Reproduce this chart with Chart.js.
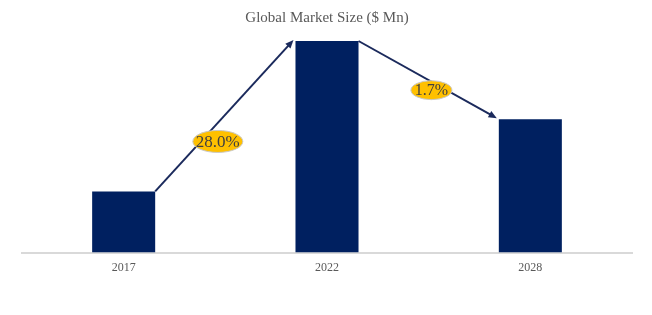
<!DOCTYPE html>
<html>
<head>
<meta charset="utf-8">
<script src="https://cdn.jsdelivr.net/npm/chart.js@4/dist/chart.umd.min.js"></script>
<style>
  html, body { margin: 0; padding: 0; background: #ffffff; }
  #wrap { width: 652px; height: 315px; }
</style>
</head>
<body>
<div id="wrap"><canvas id="c" width="652" height="315"></canvas></div>
<script>
const categories = ["2017", "2022", "2028"];
const marketSize = [61, 211, 133];
const growthLabels = ["28.0%", "1.7%"];

const arrowPlugin = {
  id: 'growthArrows',
  afterDatasetsDraw(chart) {
    const ctx = chart.ctx;
    const bars = chart.getDatasetMeta(0).data;
    const segs = [
      { from: 0, to: 1, t: 0.33, dx: 17, dy: 0, w: 50, h: 22, font: 17 },
      { from: 1, to: 2, t: 0.52, dx: 1, dy: 9, w: 41, h: 19, font: 16 }
    ];
    segs.forEach((s, i) => {
      const a = bars[s.from], b = bars[s.to];
      const x1 = a.x + a.width / 2, y1 = a.y;
      const x2 = b.x - b.width / 2 - 2, y2 = b.y - 1;
      ctx.save();
      ctx.strokeStyle = '#1b2a5c';
      ctx.fillStyle = '#1b2a5c';
      ctx.lineWidth = 2;
      ctx.beginPath();
      ctx.moveTo(x1, y1);
      const ang = Math.atan2(y2 - y1, x2 - x1);
      const hl = 9;
      ctx.lineTo(x2 - Math.cos(ang) * hl * 0.8, y2 - Math.sin(ang) * hl * 0.8);
      ctx.stroke();
      ctx.beginPath();
      ctx.moveTo(x2, y2);
      ctx.lineTo(x2 - hl * Math.cos(ang - 0.4), y2 - hl * Math.sin(ang - 0.4));
      ctx.lineTo(x2 - hl * Math.cos(ang + 0.4), y2 - hl * Math.sin(ang + 0.4));
      ctx.closePath();
      ctx.fill();
      const cx = x1 + (x2 - x1) * s.t + s.dx;
      const cy = y1 + (y2 - y1) * s.t + s.dy;
      ctx.beginPath();
      ctx.ellipse(cx, cy, s.w / 2, s.h / 2, 0, 0, Math.PI * 2);
      ctx.fillStyle = '#FFC000';
      ctx.fill();
      ctx.lineWidth = 1;
      ctx.strokeStyle = '#c8c8c8';
      ctx.stroke();
      ctx.fillStyle = '#404040';
      ctx.font = s.font + 'px "Liberation Serif", "Times New Roman", serif';
      ctx.textAlign = 'center';
      ctx.textBaseline = 'middle';
      ctx.fillText(growthLabels[i], cx, cy + 1);
      ctx.restore();
    });
  }
};

new Chart(document.getElementById('c'), {
  type: 'bar',
  data: {
    labels: categories,
    datasets: [{
      label: 'Global Market Size ($ Mn)',
      data: marketSize,
      backgroundColor: '#002060',
      borderWidth: 0,
      barPercentage: 0.31,
      categoryPercentage: 1.0
    }]
  },
  options: {
    responsive: false,
    animation: false,
    layout: { padding: { left: 22, right: 20, top: 0, bottom: 32 } },
    plugins: {
      legend: { display: false },
      tooltip: { enabled: false },
      title: {
        display: true,
        text: 'Global Market Size ($ Mn)',
        color: '#595959',
        font: { family: '"Liberation Serif", "Times New Roman", serif', size: 15, weight: 'normal' },
        padding: { top: 9, bottom: 14 }
      }
    },
    scales: {
      x: {
        grid: { display: false, drawTicks: false },
        border: { display: true, color: '#d9d9d9', width: 2 },
        ticks: {
          color: '#595959',
          padding: 8,
          font: { family: '"Liberation Serif", "Times New Roman", serif', size: 12 }
        }
      },
      y: {
        display: false,
        min: 0,
        max: 211
      }
    }
  },
  plugins: [arrowPlugin]
});
</script>
</body>
</html>
